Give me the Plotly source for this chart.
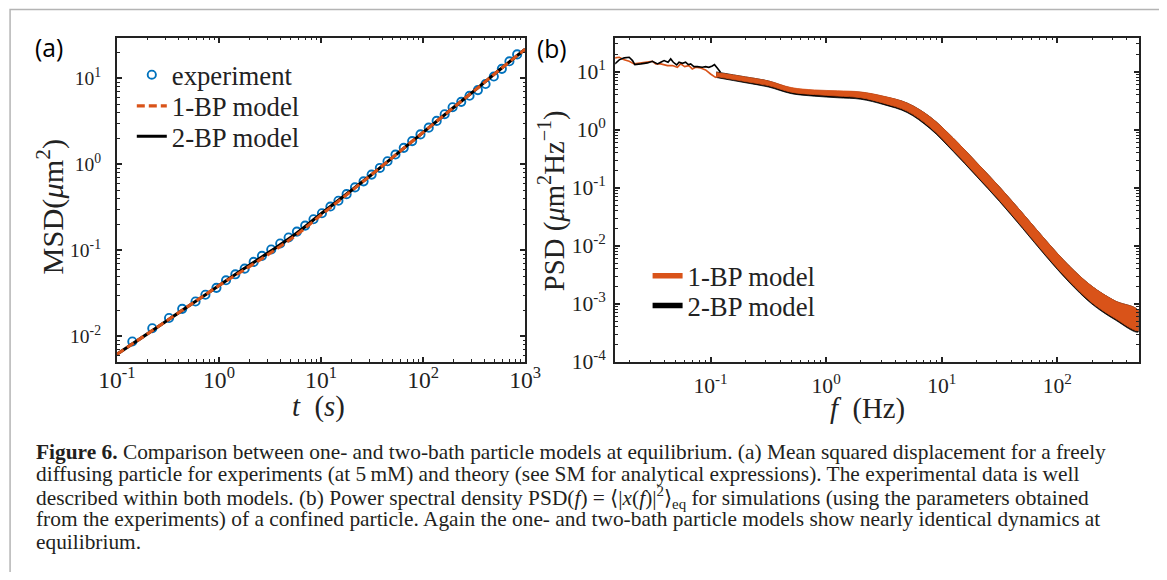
import plotly.graph_objects as go

# The page keeps its default 8px body margin, so the figure is 16px smaller than the window.
WIN_W, WIN_H = 1167, 580
BODY = 8
W, H = WIN_W - 2 * BODY, WIN_H - 2 * BODY
# observed photograph of the page: scaled by S and centred horizontally (offset OX)
S, OX = 0.9726, 16.5

SERIF = "Liberation Serif"
SANS = "Open Sans"
INK = "#222222"
BLUE = "#0072BD"
ORANGE = "#D95319"

# ---------------- Panel (a): MSD ----------------
t_exp = [0.1415, 0.222, 0.324, 0.436, 0.589, 0.736, 0.944, 1.172, 1.446, 1.785,
         2.187, 2.636, 3.25, 3.98, 4.81, 5.80, 6.99, 8.43, 10.2, 12.35,
         14.8, 17.8, 21.5, 26.1, 31.3, 37.7, 44.8, 53.6, 64.6, 78.1,
         94.2, 113.5, 135.8, 162.6, 194.5, 236.4, 285, 344, 409, 493,
         591, 701, 834]
msd_exp = [0.0087, 0.0124, 0.01633, 0.02084, 0.0254, 0.0304, 0.0366, 0.0448, 0.0526, 0.0612,
           0.0733, 0.0863, 0.1023, 0.120, 0.141, 0.165, 0.194, 0.2296, 0.270, 0.323,
           0.377, 0.450, 0.539, 0.634, 0.760, 0.908, 1.087, 1.30, 1.556, 1.864,
           2.23, 2.67, 3.20, 3.83, 4.62, 5.33, 6.27, 7.31, 8.59, 10.5,
           12.9, 15.8, 19.0]

t_model = [0.1, 0.178, 0.316, 0.562, 1.0, 1.78, 3.16, 5.62, 10.0, 17.8,
           31.6, 56.2, 100, 178, 316, 562, 1000]
msd_2bp = [0.00619, 0.00977, 0.01549, 0.02455, 0.0389, 0.0617, 0.0966, 0.1549, 0.266, 0.452,
           0.767, 1.343, 2.355, 4.12, 7.16, 12.59, 21.9]
msd_1bp = [0.00619, 0.00977, 0.01549, 0.02455, 0.0389, 0.0596, 0.0923, 0.148, 0.257, 0.442,
           0.767, 1.343, 2.355, 4.12, 7.16, 12.59, 21.9]

# ---------------- Panel (b): PSD ----------------
f_low_2bp = [0.01486, 0.01622, 0.01791, 0.01977, 0.02113, 0.02213, 0.02495, 0.02844, 0.03141, 0.03475,
             0.03707, 0.03963, 0.04285, 0.04519, 0.04764, 0.05093, 0.05333, 0.05702, 0.06081, 0.06412,
             0.06730, 0.07178, 0.07674, 0.08472, 0.09057, 0.09661, 0.1035, 0.1081, 0.1143, 0.1219]
psd_low_2bp = [13.61, 15.96, 17.30, 17.70, 15.52, 13.21, 13.61, 14.16, 15.10, 13.61,
               14.52, 15.52, 14.52, 16.60, 14.52, 13.06, 14.52, 13.93, 14.52, 13.21,
               13.61, 12.22, 12.22, 11.89, 12.22, 11.89, 12.56, 13.21, 11.59, 9.73]
f_low_1bp = [0.01486, 0.01622, 0.01791, 0.01977, 0.02183, 0.02495, 0.02844, 0.03141, 0.03357, 0.03707,
             0.04236, 0.04677, 0.05164, 0.05508, 0.05970, 0.06501, 0.06950, 0.07430, 0.08204, 0.09057,
             0.1000, 0.1104, 0.1180]
psd_low_1bp = [17.30, 17.70, 15.96, 15.10, 13.61, 14.16, 14.52, 15.10, 13.61, 13.61,
               12.71, 12.71, 11.89, 13.61, 12.22, 12.71, 11.14, 11.89, 11.59, 10.69,
               9.12, 7.98, 8.53]

# envelope of the dense (noisy) part of each spectrum
f_band = [0.112, 0.1995, 0.316, 0.501, 0.794, 1.259, 1.995, 3.162, 5.012, 7.943,
          12.59, 19.95, 31.62, 50.12, 79.43, 125.9, 199.5, 316.2, 505]
psd_1bp_upper = [9.66, 8.13, 6.92, 5.31, 4.84, 4.68, 4.47, 3.76, 2.88, 1.66,
                 0.716, 0.275, 0.1035, 0.0363, 0.01245, 0.00457, 0.00200, 0.001122, 0.000759]
psd_1bp_lower = [8.22, 6.76, 5.75, 4.42, 4.03, 3.80, 3.55, 2.85, 2.09, 1.10,
                 0.442, 0.166, 0.0610, 0.0209, 0.0070, 0.00251, 0.001047, 0.000562, 0.000347]
psd_2bp_upper = [9.90, 8.13, 6.92, 5.20, 4.70, 4.55, 4.40, 3.72, 2.88, 1.66,
                 0.716, 0.275, 0.1035, 0.0363, 0.01245, 0.00457, 0.00200, 0.001122, 0.000759]
psd_2bp_lower = [7.94, 6.45, 5.45, 4.18, 3.78, 3.55, 3.35, 2.70, 1.98, 1.04,
                 0.420, 0.158, 0.0580, 0.0199, 0.00665, 0.00238, 0.000990, 0.000530, 0.000328]

# ---------------- axis ticks ----------------
a_xticks = [0.1, 1, 10, 100, 1000]
a_xtext = ["10<sup>-1</sup>", "10<sup>0</sup>", "10<sup>1</sup>", "10<sup>2</sup>", "10<sup>3</sup>"]
a_yticks = [0.01, 0.1, 1, 10]
a_ytext = ["10<sup>-2</sup>", "10<sup>-1</sup>", "10<sup>0</sup>", "10<sup>1</sup>"]
b_xticks = [0.1, 1, 10, 100]
b_xtext = ["10<sup>-1</sup>", "10<sup>0</sup>", "10<sup>1</sup>", "10<sup>2</sup>"]
b_yticks = [1e-4, 1e-3, 1e-2, 1e-1, 1, 10]
b_ytext = ["10<sup>-4</sup>", "10<sup>-3</sup>", "10<sup>-2</sup>", "10<sup>-1</sup>",
           "10<sup>0</sup>", "10<sup>1</sup>"]


def minor_vals(lo, hi):
    return [k * 10.0 ** n for n in range(lo, hi + 1) for k in range(2, 10)]


def px(x):
    """target picture x pixel -> paper fraction"""
    page_x = (x - OX) / S
    return (page_x - BODY) / W


def py(y):
    """target picture y pixel -> paper fraction"""
    page_y = y / S
    return 1 - (page_y - BODY) / H


def fs(size):
    return size / S


fig = go.Figure()

# ---- panel a traces ----
fig.add_trace(go.Scatter(x=t_exp, y=msd_exp, mode="markers", name="experiment",
                         marker=dict(symbol="circle-open", size=fs(8), color=BLUE,
                                     line=dict(width=1.9, color=BLUE)),
                         xaxis="x", yaxis="y", legend="legend"))
fig.add_trace(go.Scatter(x=t_model, y=msd_2bp, mode="lines", name="2-BP model",
                         line=dict(color="black", width=fs(3), shape="spline"),
                         xaxis="x", yaxis="y", legend="legend3"))
fig.add_trace(go.Scatter(x=t_model, y=msd_1bp, mode="lines", name="1-BP model",
                         line=dict(color=ORANGE, width=fs(3), dash="8px,4px", shape="spline"),
                         xaxis="x", yaxis="y", legend="legend2"))

# ---- panel b traces ----
fig.add_trace(go.Scatter(x=f_band + f_band[::-1], y=psd_2bp_upper + psd_2bp_lower[::-1],
                         mode="lines", fill="toself", fillcolor="black",
                         line=dict(color="black", width=0.8, shape="spline"),
                         showlegend=False, xaxis="x2", yaxis="y2", hoverinfo="skip"))
fig.add_trace(go.Scatter(x=f_band + f_band[::-1], y=psd_1bp_upper + psd_1bp_lower[::-1],
                         mode="lines", fill="toself", fillcolor=ORANGE,
                         line=dict(color=ORANGE, width=0.8, shape="spline"),
                         showlegend=False, xaxis="x2", yaxis="y2", hoverinfo="skip"))
fig.add_trace(go.Scatter(x=f_low_1bp, y=psd_low_1bp, mode="lines",
                         line=dict(color=ORANGE, width=1.6),
                         showlegend=False, xaxis="x2", yaxis="y2"))
fig.add_trace(go.Scatter(x=f_low_2bp, y=psd_low_2bp, mode="lines",
                         line=dict(color="black", width=1.6),
                         showlegend=False, xaxis="x2", yaxis="y2"))
# legend entries for panel b
fig.add_trace(go.Scatter(x=[None], y=[None], mode="lines", name="1-BP model",
                         line=dict(color=ORANGE, width=5.5), xaxis="x2", yaxis="y2",
                         legend="legend4"))
fig.add_trace(go.Scatter(x=[None], y=[None], mode="lines", name="2-BP model",
                         line=dict(color="black", width=5.5), xaxis="x2", yaxis="y2",
                         legend="legend5"))

axis_common = dict(type="log", showline=True, linecolor=INK, linewidth=2.1,
                   mirror="allticks", ticks="inside", ticklen=5, tickwidth=1.5,
                   tickcolor=INK, showgrid=False, zeroline=False)


def tf(size):
    return dict(family=SERIF, size=fs(size), color=INK)


def minor(lo, hi):
    return dict(ticks="inside", ticklen=2.6, tickwidth=1, tickcolor=INK,
                tickvals=minor_vals(lo, hi), showgrid=False)


A_L, A_R, A_T, A_B = 114.5, 524.0, 37.3, 359.3
B_L, B_R, B_T, B_B = 614.3, 1139.3, 37.3, 360.0

fig.update_layout(
    width=W, height=H, margin=dict(l=0, r=0, t=0, b=0, pad=0),
    paper_bgcolor="white", plot_bgcolor="white",
    font=dict(family=SERIF, color=INK),
    xaxis=dict(axis_common, domain=[px(A_L), px(A_R)], range=[-1, 3],
               tickvals=a_xticks, ticktext=a_xtext, minor=minor(-1, 2),
               tickfont=tf(23), ticklabelstandoff=-4, anchor="y"),
    yaxis=dict(axis_common, domain=[py(A_B), py(A_T)], range=[-2.296, 1.473],
               tickvals=a_yticks, ticktext=a_ytext, minor=minor(-3, 1),
               tickfont=tf(19), ticklabelstandoff=10, anchor="x"),
    xaxis2=dict(axis_common, domain=[px(B_L), px(B_R)], range=[-1.825, 2.703],
                tickvals=b_xticks, ticktext=b_xtext, minor=minor(-2, 2),
                tickfont=tf(21), ticklabelstandoff=3, anchor="y2"),
    yaxis2=dict(axis_common, domain=[py(B_B), py(B_T)], range=[-4.01, 1.585],
                tickvals=b_yticks, ticktext=b_ytext, minor=minor(-4, 1),
                tickfont=tf(21), ticklabelstandoff=3, anchor="x2"),
    showlegend=True,
)

leg_font = dict(family=SERIF, size=fs(26), color=INK)


def leg(xp, yp):
    return dict(x=px(xp), y=py(yp), xanchor="left", yanchor="middle",
                bgcolor="rgba(0,0,0,0)", borderwidth=0, font=leg_font,
                itemwidth=30, xref="paper", yref="paper")


fig.update_layout(
    legend=leg(129.4, 74.2),
    legend2=leg(129.4, 105.2),
    legend3=leg(129.4, 135.3),
    legend4=leg(646.8, 274.0),
    legend5=leg(646.8, 303.5),
)

ann = []
# panel labels
ann.append(dict(text="(a)", x=px(46.7), y=py(47.2), font=dict(family=SANS, size=fs(24), color="black")))
ann.append(dict(text="(b)", x=px(551), y=py(48.3), font=dict(family=SANS, size=fs(24), color="black")))
# axis titles
ann.append(dict(text="<i>t</i>\u00a0\u00a0(<i>s</i>)", x=px(317), y=py(403.5),
                font=dict(family=SERIF, size=fs(28), color=INK)))
ann.append(dict(text="<i>f</i>\u00a0\u00a0(Hz)", x=px(867.7), y=py(405.8),
                font=dict(family=SERIF, size=fs(28), color=INK)))
ann.append(dict(text="MSD(<i>\u03bc</i>m<sup>2</sup>)", x=px(48.3), y=py(205), textangle=-90,
                font=dict(family=SERIF, size=fs(29.5), color=INK)))
ann.append(dict(text="PSD\u00a0(<i>\u03bc</i>m<sup>2</sup>Hz<sup>\u22121</sup>)", x=px(551.3), y=py(199.5),
                textangle=-90, font=dict(family=SERIF, size=fs(28), color=INK)))
for a in ann:
    a.update(xref="paper", yref="paper", showarrow=False, xanchor="center", yanchor="middle")

caption = [
    "<b>Figure 6.</b> Comparison between one- and two-bath particle models at equilibrium. (a) Mean squared displacement for a freely",
    "diffusing particle for experiments (at 5\u2009mM) and theory (see SM for analytical expressions). The experimental data is well",
    "described within both models. (b) Power spectral density PSD(<i>f</i>) = \u27e8|<i>x</i>(<i>f</i>)|<sup>2</sup>\u27e9<sub>eq</sub> for simulations (using the parameters obtained",
    "from the experiments) of a confined particle. Again the one- and two-bath particle models show nearly identical dynamics at",
    "equilibrium.",
]
cap_y = [449, 471, 494, 516, 538]
for line, yy in zip(caption, cap_y):
    ann.append(dict(text=line, x=px(31), y=py(yy), xref="paper", yref="paper",
                    showarrow=False, xanchor="left", yanchor="middle", align="left",
                    font=dict(family=SERIF, size=fs(20.8), color="#231f20")))

fig.update_layout(annotations=ann)

# outer frame of the figure box
fig.add_shape(type="rect", xref="paper", yref="paper",
              x0=px(7.3), x1=px(1163.3), y0=py(640), y1=py(9.3),
              line=dict(color="#b4b4b4", width=1.5), fillcolor="rgba(0,0,0,0)", layer="below")

fig.write_html("out.html", config={"displayModeBar": False})
